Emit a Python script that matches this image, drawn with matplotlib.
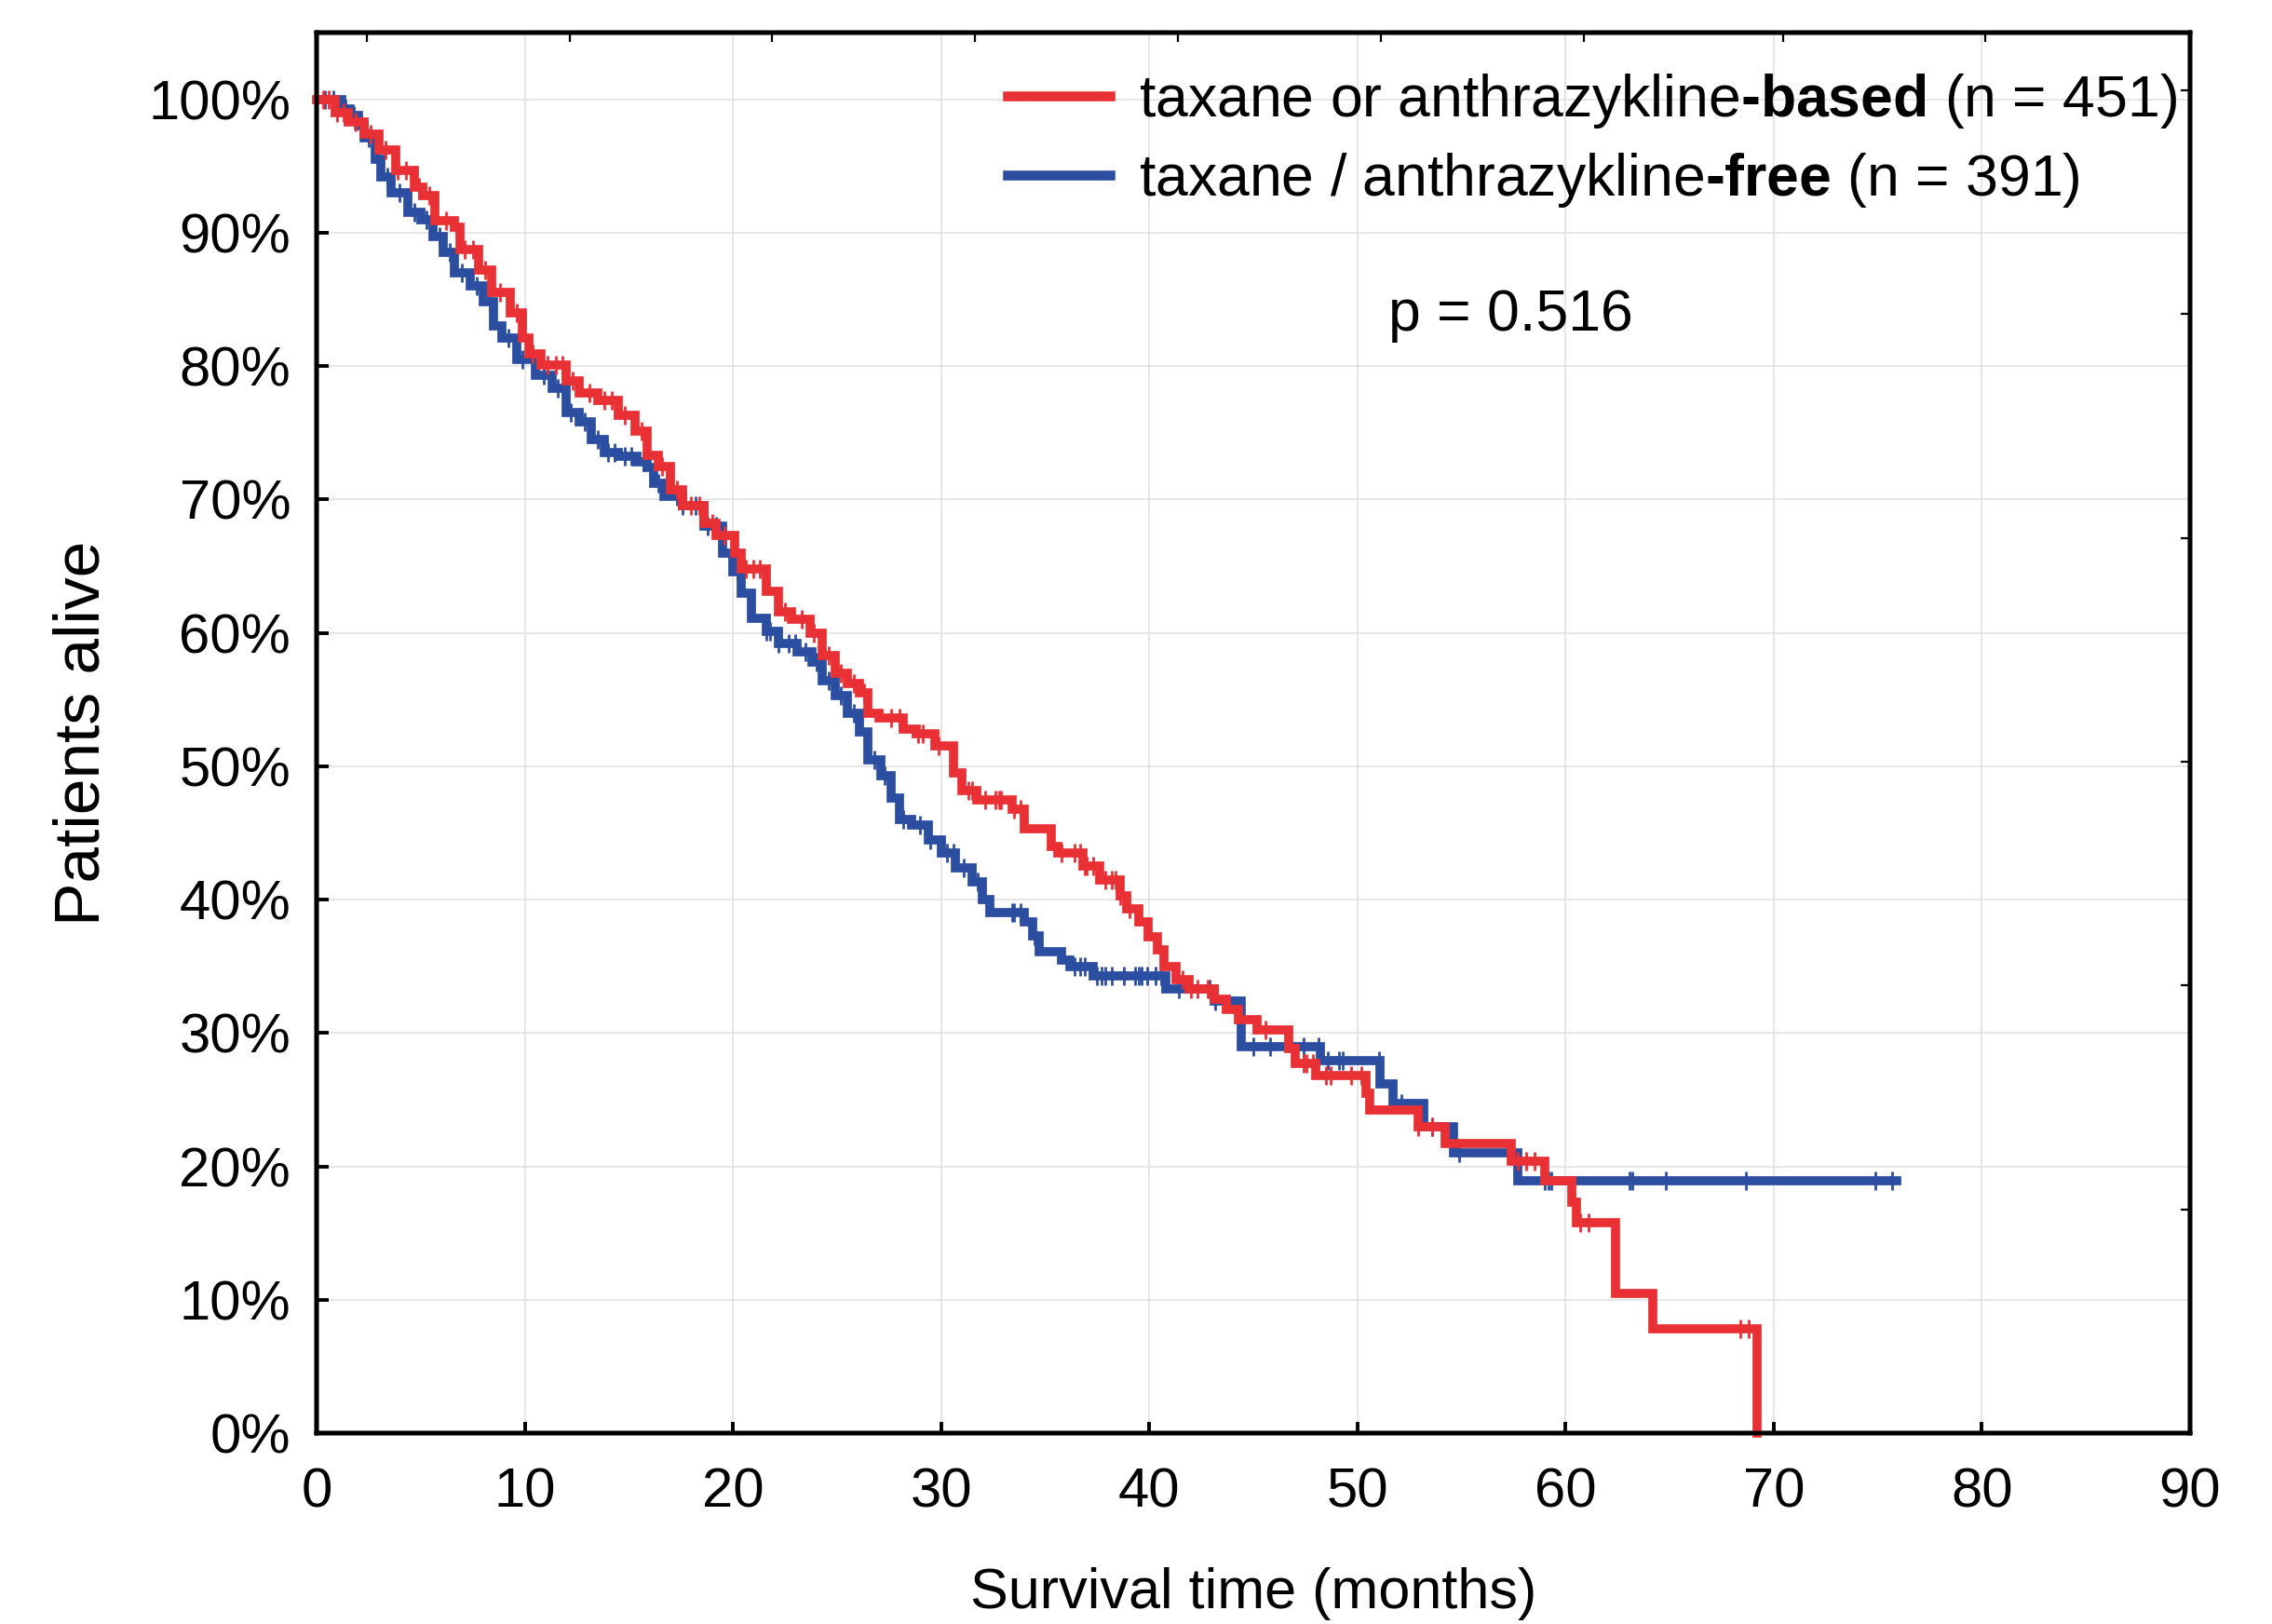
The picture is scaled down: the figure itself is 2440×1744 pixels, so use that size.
#Kaplan-Meier survival curves (taxane/anthrazykline)
import numpy as np
import matplotlib
matplotlib.use('Agg')
import matplotlib.pyplot as plt

plt.rcParams['font.family'] = ['Liberation Sans', 'DejaVu Sans']
plt.rcParams['mathtext.fontset'] = 'custom'
plt.rcParams['mathtext.rm'] = 'Liberation Sans'
plt.rcParams['mathtext.bf'] = 'Liberation Sans:bold'

# step changes (months, % alive)
red_t = [0, 0.9, 1.5, 2.3, 3.0, 3.8, 4.7, 5.1, 5.7, 6.6, 6.9, 7.8, 8.4, 9.3, 9.9, 10.2,
         10.8, 12.0, 12.6, 13.5, 14.5, 15.3, 15.9, 16.4, 17.0, 17.6, 18.6, 19.2, 20.1,
         20.4, 21.6, 22.2, 22.8, 23.7, 24.3, 24.9, 25.5, 26.1, 26.5, 27.0, 28.2, 28.8,
         29.7, 30.6, 31.0, 31.7, 33.4, 34.0, 35.3, 35.6, 36.8, 37.6, 38.6, 38.9, 39.5,
         39.95, 40.4, 40.7, 41.3, 41.9, 43.1, 43.7, 44.3, 45.2, 46.7, 47.0, 48.0, 50.4,
         50.6, 52.9, 54.2, 57.4, 59.0, 60.3, 60.5, 62.4, 64.2, 69.2]
red_s = [100, 99.0, 98.3, 97.4, 96.2, 94.7, 93.4, 92.8, 90.9, 90.4, 88.7, 87.2, 85.5, 84.0,
         82.1, 80.9, 80.1, 78.9, 78.0, 77.4, 76.3, 75.1, 73.3, 72.5, 70.7, 69.5, 68.2, 67.3,
         66.0, 64.8, 63.1, 61.6, 61.0, 60.0, 58.3, 57.0, 56.2, 55.5, 54.0, 53.6, 52.8, 52.4,
         51.5, 49.5, 48.2, 47.5, 46.8, 45.3, 44.0, 43.5, 42.5, 41.5, 40.3, 39.3, 38.3, 37.2,
         36.2, 35.0, 34.0, 33.3, 32.5, 31.8, 31.0, 30.2, 28.8, 27.7, 26.8, 25.5, 24.25,
         23.0, 21.7, 20.4, 18.9, 17.3, 15.8, 10.45, 7.8, 0]
red_cens = [0.3, 0.6, 1.0, 1.3, 1.9, 2.6, 3.3, 3.9, 4.3, 4.9, 5.4, 6.2, 7.1, 7.5, 8.1, 8.8,
            9.6, 10.4, 11.1, 11.5, 11.8, 12.3, 13.1, 13.8, 14.2, 14.8, 15.6, 16.6, 17.3,
            18.0, 18.4, 19.0, 19.6, 20.6, 21.0, 21.3, 22.5, 23.3, 23.9, 24.6, 25.2, 25.8,
            26.3, 27.6, 28.0, 28.9, 29.1, 29.9, 31.3, 31.5, 32.1, 32.6, 32.8, 32.9, 33.5,
            33.8, 35.8, 36.4, 36.7, 36.9, 37.0, 37.3, 37.9, 38.2, 38.4, 38.6, 39.05, 41.6,
            42.0, 42.3, 42.8, 45.6, 47.4, 47.55, 47.85, 48.5, 48.7, 49.7, 50.2, 52.9, 53.6,
            57.7, 58.1, 58.5, 60.7, 61.1, 68.4, 68.8]

blue_t = [0, 1.2, 1.6, 2.0, 2.3, 2.8, 3.1, 3.6, 4.4, 5.0, 5.6, 6.1, 6.6, 7.4, 8.0, 8.5, 8.9,
          9.6, 10.5, 11.3, 12.0, 12.6, 13.2, 13.8, 14.5, 15.4, 15.9, 16.2, 16.7, 17.6, 18.6,
          19.5, 20.0, 20.4, 20.9, 21.6, 22.2, 23.1, 23.8, 24.3, 24.9, 25.5, 26.1, 26.5, 27.1,
          27.6, 28.0, 28.6, 29.4, 30.0, 30.7, 31.5, 32.0, 32.35, 34.0, 34.4, 34.7, 35.8,
          36.2, 37.3, 40.8, 43.1, 44.4, 48.2, 51.1, 51.7, 53.2, 54.6, 57.7, 75.9]
blue_s = [100, 99.3, 98.8, 98.0, 97.1, 95.5, 94.2, 93.0, 91.5, 91.0, 89.7, 88.5, 87.0, 86.0,
          84.8, 83.0, 82.1, 80.5, 79.3, 78.3, 76.5, 75.8, 74.5, 73.5, 73.2, 72.8, 72.4, 71.2,
          70.2, 69.5, 68.0, 66.0, 64.6, 63.0, 61.1, 60.1, 59.2, 58.6, 57.8, 56.4, 55.3, 54.0,
          52.6, 50.5, 49.3, 47.6, 46.0, 45.6, 44.5, 43.5, 42.4, 41.3, 40.0, 39.0, 38.3, 37.3,
          36.1, 35.5, 35.0, 34.3, 33.3, 32.4, 29.0, 27.9, 26.2, 24.7, 23.0, 21.0, 18.9, 18.9]
blue_cens = [0.4, 0.8, 1.4, 1.8, 2.5, 3.4, 4.0, 4.7, 5.3, 5.9, 6.4, 7.0, 7.7, 8.3, 9.2, 9.9,
             10.9, 11.6, 12.2, 12.9, 13.5, 14.0, 14.3, 14.8, 15.1, 15.7, 16.4, 17.3, 17.6,
             18.2, 18.8, 19.2, 20.2, 21.6, 21.8, 22.2, 22.7, 23.0, 23.5, 24.0, 24.6, 25.2,
             25.8, 26.8, 27.3, 28.2, 29.0, 29.5, 30.3, 30.6, 31.1, 31.75, 33.4, 33.5, 33.8,
             34.5, 36.4, 36.7, 36.9, 37.5, 37.7, 37.9, 38.2, 38.8, 39.3, 39.5, 39.65, 39.9,
             40.3, 40.55, 41.4, 42.9, 43.15, 45.0, 45.8, 47.4, 48.15, 48.6, 49.1, 49.3, 51.06,
             52.1, 53.6, 54.9, 59.0, 59.2, 59.3, 63.06, 63.2, 64.8, 68.65, 74.9, 75.7]

labels = [r'taxane or anthrazykline$\mathbf{‐based}$ (n = 451)',
          r'taxane / anthrazykline$\mathbf{‐free}$ (n = 391)']
red = '#e83035'
blue = '#2b4ea0'

fig = plt.figure(figsize=(12.2, 8.72), dpi=200)
ax = fig.add_axes([340/2440, 205/1744, 2012/2440, 1504/1744])


def censored(t, s, c):
    # survival value at each censoring time
    idx = np.searchsorted(t, c, side='right') - 1
    return np.array(s)[idx]


ax.step(blue_t, blue_s, where='post', color=blue, lw=3.5, label=labels[1], zorder=3,
        solid_joinstyle='miter')
ax.plot(blue_cens, censored(blue_t, blue_s, blue_cens), ls='none', marker='|',
        ms=7, mew=1.0, color=blue, zorder=3)
ax.step(red_t, red_s, where='post', color=red, lw=3.5, label=labels[0], zorder=4,
        clip_on=False, solid_joinstyle='miter')
ax.plot(red_cens, censored(red_t, red_s, red_cens), ls='none', marker='|',
        ms=7, mew=1.0, color=red, zorder=4)

ax.set_xlim(0, 90)
ax.set_ylim(0, 105)
ax.set_xticks(range(0, 91, 10))
ax.set_yticks(range(0, 101, 10))
ax.set_yticklabels([f'{v}%' for v in range(0, 101, 10)])
ax.tick_params(direction='in', length=4.5, width=1.4, labelsize=21.5)
ax.tick_params(axis='x', pad=13)
ax.tick_params(axis='y', pad=10)
ax.grid(color='#e2e2e2', lw=0.6)
for sp in ax.spines.values():
    sp.set_linewidth(1.6)

# extra ticks on top and right spines
axt = ax.twiny()
axt.set_xlim(0, 90)
axt.set_xticks([2.4, 12.15, 21.89, 31.64, 41.38, 51.12, 60.87, 70.47, 80.14])
axt.tick_params(direction='in', length=3.6, width=0.8, labeltop=False)
axr = ax.twinx()
axr.set_ylim(0, 105)
axr.set_yticks([16.78, 33.56, 50.34, 67.12, 83.9, 100.68])
axr.tick_params(direction='in', length=3.6, width=0.8, labelright=False)
for a in (axt, axr):
    for sp in a.spines.values():
        sp.set_linewidth(1.6)

ax.set_xlabel('Survival time (months)', fontsize=22, labelpad=19)
ax.set_ylabel('Patients alive', fontsize=25, labelpad=14)

h, l = ax.get_legend_handles_labels()
leg = ax.legend(h[::-1], l[::-1], loc='upper left', bbox_to_anchor=(0.369, 0.972),
                frameon=False, fontsize=22.5, handlelength=1.75, handletextpad=0.5,
                labelspacing=0.35, borderpad=0, borderaxespad=0)
for line in leg.get_lines():
    line.set_linewidth(3.8)

ax.text(0.572, 0.7985, 'p = 0.516', transform=ax.transAxes, fontsize=22.5,
        ha='left', va='center')

fig.savefig('out.png', dpi=200)
